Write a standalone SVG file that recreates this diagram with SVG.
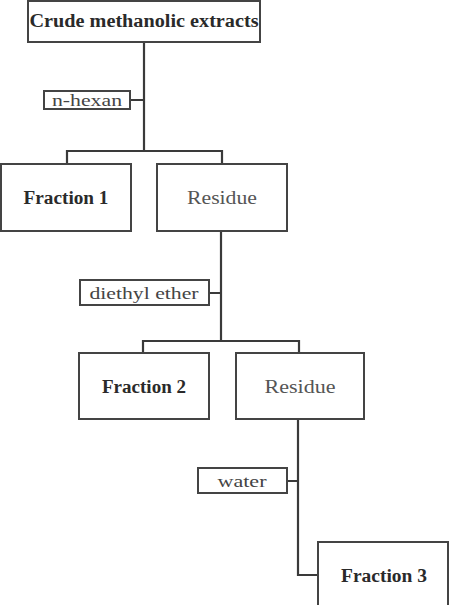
<svg xmlns="http://www.w3.org/2000/svg" width="461" height="605" viewBox="0 0 461 605">
<style>
.box{fill:#fff;stroke:#444;stroke-width:2}
.lbl{fill:#fff;stroke:#444;stroke-width:2}
.con{fill:none;stroke:#3a3a3a;stroke-width:2.2}
text{font-family:"Liberation Serif","DejaVu Serif",serif;dominant-baseline:central;text-anchor:middle}
.b{font-weight:bold;fill:#2a2a2a;font-size:18px}
.r{fill:#555;font-size:18px}
.s{fill:#444;font-size:16px}
</style>
<rect width="461" height="605" fill="#fff"/>
<g id="connectors">
<path class="con" d="M144 42 V151 M67 164 V151 H222 V164 M130 100 H144"/>
<path class="con" d="M221 231 V341 M143 353 V341 H299 V353 M209 293 H221"/>
<path class="con" d="M298 419 V575 H318 M287 481 H298"/>
</g>
<g id="crude"><rect class="box" x="28" y="1" width="232" height="41"/><text class="b" x="144" y="21" textLength="229" lengthAdjust="spacingAndGlyphs">Crude methanolic extracts</text></g>
<g id="nhexan"><rect class="lbl" x="44" y="91" width="86" height="18"/><text class="s" x="87" y="100" textLength="70" lengthAdjust="spacingAndGlyphs">n-hexan</text></g>
<g id="fraction1"><rect class="box" x="1" y="164" width="130" height="67"/><text class="b" x="66" y="198" textLength="85" lengthAdjust="spacingAndGlyphs">Fraction 1</text></g>
<g id="residue1"><rect class="box" x="157" y="164" width="130" height="67"/><text class="r" x="222" y="198" textLength="70" lengthAdjust="spacingAndGlyphs">Residue</text></g>
<g id="diethylether"><rect class="lbl" x="80" y="280" width="129" height="25"/><text class="s" x="144" y="293" textLength="109" lengthAdjust="spacingAndGlyphs">diethyl ether</text></g>
<g id="fraction2"><rect class="box" x="79" y="353" width="130" height="66"/><text class="b" x="144" y="387" textLength="84" lengthAdjust="spacingAndGlyphs">Fraction 2</text></g>
<g id="residue2"><rect class="box" x="236" y="353" width="128" height="66"/><text class="r" x="300" y="387" textLength="71" lengthAdjust="spacingAndGlyphs">Residue</text></g>
<g id="water"><rect class="lbl" x="198" y="468" width="89" height="25"/><text class="s" x="242" y="481" textLength="49" lengthAdjust="spacingAndGlyphs">water</text></g>
<g id="fraction3"><rect class="box" x="318" y="542" width="130" height="70"/><text class="b" x="384" y="576" textLength="86" lengthAdjust="spacingAndGlyphs">Fraction 3</text></g>
</svg>
